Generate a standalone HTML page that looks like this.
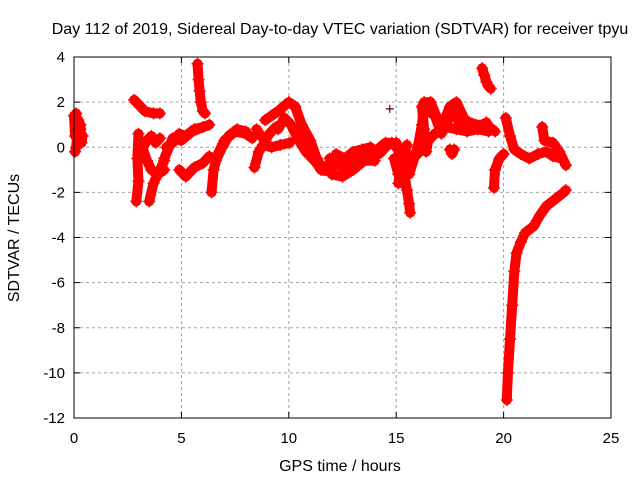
<!DOCTYPE html>
<html><head><meta charset="utf-8"><style>
body{margin:0;background:#fff}
svg{display:block;font-family:"Liberation Sans",sans-serif}
</style></head><body>
<svg id="c" width="640" height="480">
<rect width="640" height="480" fill="#fff"/>
<text x="340" y="34" font-size="16" text-anchor="middle">Day 112 of 2019, Sidereal Day-to-day VTEC variation (SDTVAR) for receiver tpyu</text>
<text x="340" y="471" font-size="16" text-anchor="middle">GPS time / hours</text>
<text transform="translate(19,238) rotate(-90)" font-size="16" text-anchor="middle">SDTVAR / TECUs</text>
<g id="grid"></g><g id="marks"></g>
<rect x="74" y="57" width="537" height="361" fill="none" stroke="#000"/>
</svg>
<script>
const xTicks=[0,5,10,15,20,25];
const yTicks=[4,2,0,-2,-4,-6,-8,-10,-12];
const trackTimes=[
[0,0.05,0.1,0.2,0.3,0.35,0.4],
[0.05,0.1,0.15,0.2,0.3],
[2.8,3.0,3.3,3.7,4.0],
[3.0,2.95,3.0,2.9],
[3.1,3.4,3.6,3.9,4.2],
[3.5,3.7,4.0,4.2],
[4.2,4.6,5.0,5.5,6.3],
[4.9,5.2,5.6,6.0,6.3],
[5.75,5.8,5.85,5.9,6.0,6.1],
[6.4,6.5,6.7,7.0,7.5,8.0,8.3],
[8.4,8.6,8.8,9.2,9.6,10.05],
[8.9,9.5,10.0,10.3,10.6,11.0,11.3,11.6],
[10.5,11.0,11.5,12.0],
[11.9,12.3,12.7,13.0,13.5,14.0,14.5,14.8,15.0],
[12.0,12.5,13.0,13.5,14.0],
[15.0,15.2,15.4,15.5,15.6,15.65],
[15.1,15.3,15.5],
[15.6,16.0,16.2,16.3,16.6,16.9,17.2,17.5,17.8,18.2,18.7,19.2,19.6],
[16.0,16.4,16.8,17.3,17.8,18.3,18.8,19.3],
[17.5,17.6,17.7],
[19.0,19.1,19.2,19.3,19.4],
[19.55,19.6,19.8,20.0],
[20.1,20.3,20.5,20.8,21.2,21.6,22.0,22.3,22.7],
[21.8,21.9,22.3,22.6,22.9],
[20.15,20.2,20.3,20.4,20.5,20.6,20.8,21.0,21.4,21.7,22.0,22.4,22.8,22.9],
[3.2,3.4,3.6,3.8,4.0],
[8.5,8.7,8.9,9.1,9.4],
[9.5,9.8,10.1,10.4,10.8,11.2,11.6,12.0],
[12.2,12.6,13.0,13.4,13.8,14.2,14.6],
[14.9,15.1,15.3,15.5,15.7],
[16.2,16.3,16.4,16.5],
[16.5,16.8,17.1,17.4,17.7,18.0,18.4,18.8,19.2],
[6.6,6.9,7.2,7.6,8.0],
[4.3,4.6,4.9,5.2,5.6,6.0]
];
const trackValues=[
[1.4,0.5,1.5,0.3,1.0,0.2,0.5],
[-0.2,0.0,0.6,1.2,0.8],
[2.1,1.9,1.6,1.5,1.5],
[0.6,-0.5,-1.5,-2.4],
[0.2,-0.6,-1.0,-1.2,-1.0],
[-2.4,-1.6,-1.0,-0.6],
[-0.5,0.4,0.3,0.7,1.0],
[-1.0,-1.3,-0.9,-0.7,-0.4],
[3.7,3.0,2.5,2.0,1.6,1.5],
[-2.0,-1.0,-0.3,0.3,0.7,0.6,0.4],
[-0.9,-0.2,0.1,0.0,0.1,0.2],
[1.2,1.6,2.0,1.8,1.0,0.3,-0.5,-1.0],
[0.5,-0.3,-1.0,-1.1],
[-0.5,-0.8,-0.9,-0.5,-0.3,-0.2,0.2,0.2,0.0],
[-1.2,-1.3,-1.0,-0.6,-0.6],
[0.2,-0.6,-1.3,-1.9,-2.5,-2.9],
[-1.6,-0.5,0.1],
[-1.2,0.0,1.0,2.0,2.0,1.3,1.1,1.8,2.0,1.2,1.0,1.0,0.7],
[-0.3,0.2,0.6,0.9,0.8,0.7,0.8,0.7],
[-0.1,-0.3,-0.1],
[3.5,3.2,2.9,2.7,2.6],
[-1.8,-1.0,-0.5,-0.3],
[1.3,0.5,-0.1,-0.3,-0.5,-0.3,-0.2,-0.4,-0.5],
[0.9,0.3,0.2,-0.2,-0.8],
[-11.2,-10.0,-8.5,-7.0,-5.5,-4.7,-4.2,-3.8,-3.5,-3.0,-2.6,-2.3,-2.0,-1.9],
[0.0,0.3,0.5,0.2,0.4],
[0.8,0.5,0.3,0.6,0.9],
[0.8,1.3,1.0,0.4,-0.2,-0.6,-0.9,-0.7],
[-0.3,-0.5,-0.2,-0.1,0.0,-0.3,0.1],
[-0.5,-1.2,-1.6,-1.0,-0.4],
[1.8,0.8,-0.2,0.4],
[1.6,1.4,0.6,1.2,1.5,1.0,1.1,0.9,1.1],
[-0.6,0.0,0.5,0.8,0.7],
[0.0,0.2,0.6,0.5,0.8,0.9]
];
const NS='http://www.w3.org/2000/svg';
const X=t=>74+t*537/25;
const Y=v=>57+(4-v)*361/16;
const grid=document.getElementById('grid'),marks=document.getElementById('marks');
function mk(tag,a,p){const e=document.createElementNS(NS,tag);for(const k in a)e.setAttribute(k,a[k]);p.appendChild(e);return e;}
xTicks.forEach(t=>{
  const x=X(t);
  if(t>0&&t<25){const g=mk('line',{x1:x,x2:x,y1:57,y2:418,stroke:'#a0a0a0','stroke-dasharray':'3,3'},grid);
  
  }
  mk('line',{x1:x,x2:x,y1:418,y2:412,stroke:'#000'},grid);
  mk('line',{x1:x,x2:x,y1:57,y2:63,stroke:'#000'},grid);
  const l=mk('text',{x:x,y:443,'font-size':15,'text-anchor':'middle'},grid);l.textContent=t;
  
  
});
yTicks.forEach(v=>{
  const y=Y(v);
  if(v<4&&v>-12){const g=mk('line',{x1:74,x2:611,y1:y,y2:y,stroke:'#a0a0a0','stroke-dasharray':'3,3'},grid);
  
  }
  mk('line',{x1:74,x2:80,y1:y,y2:y,stroke:'#000'},grid);
  mk('line',{x1:611,x2:605,y1:y,y2:y,stroke:'#000'},grid);
  const l=mk('text',{x:65,y:y+5,'font-size':15,'text-anchor':'end'},grid);l.textContent=v;
  
  
});
trackTimes.forEach((ts,i)=>{
  const vs=trackValues[i];
  const pts=ts.map((t,j)=>X(t)+','+Y(vs[j])).join(' ');
  const pl=mk('polyline',{points:pts,fill:'none',stroke:'#f00','stroke-width':10,'stroke-linejoin':'round','stroke-linecap':'round'},marks);
  
  
  ts.forEach((t,j)=>{
    const x=X(t),y=Y(vs[j]);
    const p=mk('path',{d:`M${x-6},${y}h12M${x},${y-6}v12`,stroke:'#f00','stroke-width':1.5},marks);
    
    
  });
});
const stray=mk('path',{d:`M${X(14.7)-4},${Y(1.7)}h8M${X(14.7)},${Y(1.7)-4}v8`,stroke:'#600','stroke-width':1.2},marks);


</script>
</body></html>
